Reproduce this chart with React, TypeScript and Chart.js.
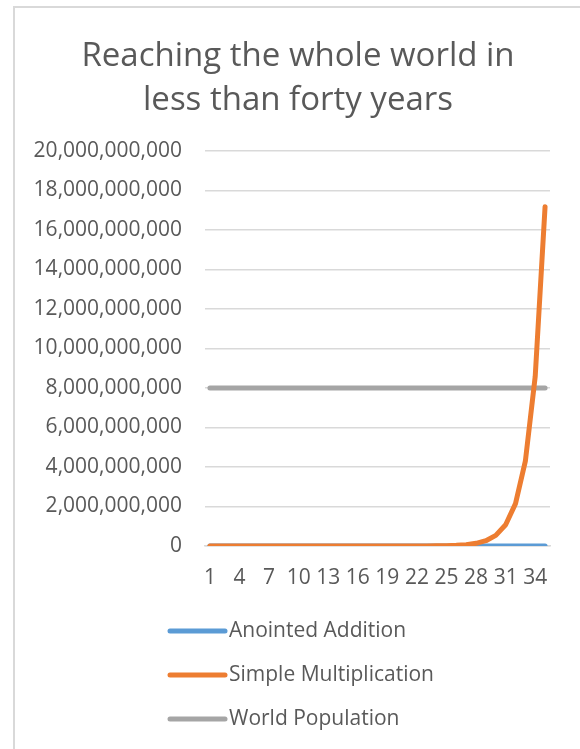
import React, { useEffect, useRef } from "react";
import { Chart, registerables } from "chart.js";

Chart.register(...registerables);

const years: string[] = [
  "1", "2", "3", "4", "5", "6", "7", "8", "9", "10",
  "11", "12", "13", "14", "15", "16", "17", "18", "19", "20",
  "21", "22", "23", "24", "25", "26", "27", "28", "29", "30",
  "31", "32", "33", "34", "35",
];

const anointedAddition: number[] = [
  1, 2, 3, 4, 5, 6, 7, 8, 9, 10,
  11, 12, 13, 14, 15, 16, 17, 18, 19, 20,
  21, 22, 23, 24, 25, 26, 27, 28, 29, 30,
  31, 32, 33, 34, 35,
];

const simpleMultiplication: number[] = [
  1, 2, 4, 8, 16, 32, 64, 128, 256, 512,
  1024, 2048, 4096, 8192, 16384, 32768, 65536, 131072, 262144, 524288,
  1048576, 2097152, 4194304, 8388608, 16777216, 33554432, 67108864,
  134217728, 268435456, 536870912, 1073741824, 2147483648, 4294967296,
  8589934592, 17179869184,
];

const worldPopulation: number[] = [
  8000000000, 8000000000, 8000000000, 8000000000, 8000000000,
  8000000000, 8000000000, 8000000000, 8000000000, 8000000000,
  8000000000, 8000000000, 8000000000, 8000000000, 8000000000,
  8000000000, 8000000000, 8000000000, 8000000000, 8000000000,
  8000000000, 8000000000, 8000000000, 8000000000, 8000000000,
  8000000000, 8000000000, 8000000000, 8000000000, 8000000000,
  8000000000, 8000000000, 8000000000, 8000000000, 8000000000,
];

const titleLines: string[] = ["Reaching the whole world in", "less than forty years"];
const seriesNames: string[] = ["Anointed Addition", "Simple Multiplication", "World Population"];
const seriesColors: string[] = ["#5b9bd5", "#ed7d31", "#a5a5a5"];

const FONT = "'Open Sans', 'Noto Sans', sans-serif";
const TEXT = "#595959";

const decorPlugin = {
  id: "decor",
  beforeDraw(chart: any) {
    const ctx = chart.ctx;
    ctx.save();
    ctx.fillStyle = "#ffffff";
    ctx.fillRect(0, 0, chart.width, chart.height);
    ctx.strokeStyle = "#d9d9d9";
    ctx.lineWidth = 2;
    ctx.strokeRect(14, 7, chart.width + 20, chart.height + 20);
    ctx.restore();
  },
  afterDraw(chart: any) {
    const ctx = chart.ctx;
    ctx.save();
    // title
    ctx.fillStyle = TEXT;
    ctx.font = `33px ${FONT}`;
    ctx.textAlign = "center";
    ctx.textBaseline = "alphabetic";
    ctx.fillText(titleLines[0], 298, 66);
    ctx.fillText(titleLines[1], 298, 110);
    // legend
    ctx.font = `21px ${FONT}`;
    ctx.textAlign = "left";
    ctx.textBaseline = "middle";
    const rows = [631, 675, 719];
    seriesNames.forEach((name, i) => {
      ctx.strokeStyle = seriesColors[i];
      ctx.lineWidth = 5;
      ctx.lineCap = "round";
      ctx.beginPath();
      ctx.moveTo(170, rows[i]);
      ctx.lineTo(225, rows[i]);
      ctx.stroke();
      ctx.fillStyle = TEXT;
      ctx.fillText(name, 229, rows[i]);
    });
    ctx.restore();
  },
};

export default function App() {
  const canvasRef = useRef<HTMLCanvasElement | null>(null);

  useEffect(() => {
    if (!canvasRef.current) return;
    const mk = (i: number, data: number[], order: number) => ({
      label: seriesNames[i],
      data,
      borderColor: seriesColors[i],
      backgroundColor: seriesColors[i],
      borderWidth: 5,
      borderCapStyle: "round" as const,
      borderJoinStyle: "round" as const,
      pointRadius: 0,
      pointHoverRadius: 0,
      tension: 0,
      fill: false,
      order,
    });
    const chart = new Chart(canvasRef.current, {
      type: "line",
      data: {
        labels: years,
        datasets: [
          mk(0, anointedAddition, 2),
          mk(1, simpleMultiplication, 1),
          mk(2, worldPopulation, 3),
        ],
      },
      options: {
        animation: false,
        responsive: false,
        devicePixelRatio: 1,
        layout: { padding: { top: 151, right: 30, bottom: 153, left: 0 } },
        plugins: {
          legend: { display: false },
          title: { display: false },
          tooltip: { enabled: false },
        },
        scales: {
          x: {
            offset: true,
            grid: { display: false, drawTicks: false },
            border: { display: true, color: "#d9d9d9", width: 1.5 },
            ticks: {
              autoSkip: false,
              maxRotation: 0,
              minRotation: 0,
              padding: 19,
              color: TEXT,
              font: { family: FONT, size: 21 },
              callback: (_v: any, i: number) => (i % 3 === 0 ? years[i] : ""),
            },
            afterFit: (s: any) => {
              s.height = 50;
            },
          },
          y: {
            min: 0,
            max: 20000000000,
            grid: { color: "#d9d9d9", lineWidth: 1.5, drawTicks: false },
            border: { display: false },
            ticks: {
              stepSize: 2000000000,
              padding: 23,
              color: TEXT,
              font: { family: FONT, size: 21 },
              callback: (v: any) => Number(v).toLocaleString("en-US"),
            },
            afterFit: (s: any) => {
              s.width = 205;
            },
          },
        },
      },
      plugins: [decorPlugin],
    });
    return () => chart.destroy();
  }, []);

  return (
    <div style={{ position: "fixed", left: 0, top: 0, width: 580, height: 749, background: "#fff" }}>
      <canvas ref={canvasRef} width={580} height={749} style={{ width: 580, height: 749, display: "block" }} />
    </div>
  );
}
